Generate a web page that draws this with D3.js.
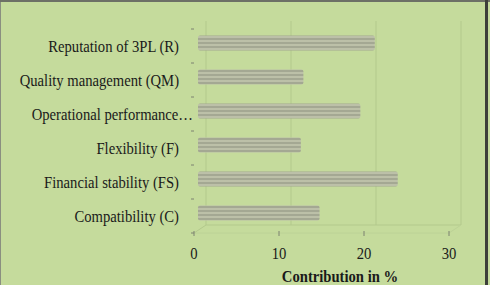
<!DOCTYPE html>
<html>
<head>
<meta charset="utf-8">
<script src="https://cdn.jsdelivr.net/npm/d3@7"></script>
<style>
  body { margin: 0; background: #fff; }
  text { font-family: "Liberation Serif", "Times New Roman", serif; }
</style>
</head>
<body>
<div id="chart"></div>
<script>
// criteria bottom to top, as drawn
let criteria = ["Compatibility (C)", "Financial stability (FS)", "Flexibility (F)",
                "Operational performance\u2026", "Quality management (QM)", "Reputation of 3PL (R)"],
    contribution = [14.3, 23.5, 12.1, 19.1, 12.4, 20.8],
    xTicks = [0, 10, 20, 30];

let W = 490, H = 285,
    margin = {top: 29, right: 41, bottom: 52, left: 194},
    width = W - margin.left - margin.right,
    height = H - margin.top - margin.bottom,
    depthX = 12, depthY = 8,
    fontSize = 16, squeeze = 0.915;

let svg = d3.select("#chart").append("svg")
  .attr("width", W).attr("height", H);

// panel background and frame
svg.append("rect").attr("width", W).attr("height", H).attr("fill", "#c5db9c");
svg.append("line").attr("x1", 0.5).attr("x2", 0.5).attr("y1", 0).attr("y2", H)
  .attr("stroke", "#8a8f80").attr("stroke-width", 1);
svg.append("line").attr("x1", 0).attr("x2", W).attr("y1", 1).attr("y2", 1)
  .attr("stroke", "#6d7066").attr("stroke-width", 2);
svg.append("line").attr("x1", 486.5).attr("x2", 486.5).attr("y1", 0).attr("y2", H)
  .attr("stroke", "#3d3f3a").attr("stroke-width", 3);

// stripe pattern for bars
let defs = svg.append("defs");
let pat = defs.append("pattern").attr("id", "stripes")
  .attr("patternUnits", "userSpaceOnUse").attr("width", 8).attr("height", 4);
pat.append("rect").attr("width", 8).attr("height", 4).attr("fill", "#bcc0a8");
pat.append("rect").attr("y", 1).attr("width", 8).attr("height", 2).attr("fill", "#a4a893");

let xScale = d3.scaleLinear().domain([0, 30]).range([0, width]);
let yScale = d3.scaleBand().domain(criteria).range([height, 0]).paddingInner(0.5).paddingOuter(0.25);
let yBand = d3.scaleBand().domain(criteria).range([height, 0]);

let g = svg.append("g").attr("transform", "translate(" + margin.left + "," + margin.top + ")");

// draws text a bit narrower, like the scaled original
function label(sel, x, y) {
  sel.attr("transform", (d, i) => "translate(" + x(d, i) + "," + y(d, i) + ") scale(" + squeeze + ",1)")
     .attr("font-size", fontSize).attr("fill", "#1a1a1a");
}

// back wall gridlines (3D look)
let grid = "#b3c98c";
g.selectAll(".grid").data(xTicks).enter().append("line")
  .attr("x1", d => xScale(d) + depthX).attr("x2", d => xScale(d) + depthX)
  .attr("y1", -depthY).attr("y2", height - depthY)
  .attr("stroke", grid).attr("stroke-width", 1);
// floor
g.append("line").attr("x1", depthX).attr("x2", width + depthX)
  .attr("y1", height - depthY).attr("y2", height - depthY).attr("stroke", grid);
g.append("line").attr("x1", 0).attr("x2", width)
  .attr("y1", height).attr("y2", height).attr("stroke", "#bcd296");
g.append("line").attr("x1", 0).attr("x2", depthX)
  .attr("y1", height).attr("y2", height - depthY).attr("stroke", grid);
g.append("line").attr("x1", width).attr("x2", width + depthX)
  .attr("y1", height).attr("y2", height - depthY).attr("stroke", "#bcd296");

// bars
g.selectAll(".bar").data(contribution).enter().append("rect")
  .attr("x", 4)
  .attr("y", (d, i) => yScale(criteria[i]) - 2)
  .attr("width", d => xScale(d))
  .attr("height", 15)
  .attr("rx", 2)
  .attr("fill", "url(#stripes)");

// y ticks (between categories)
let yTickPos = d3.range(criteria.length + 1).map(i => i * yBand.step());
g.selectAll(".ytick").data(yTickPos).enter().append("line")
  .attr("x1", -3).attr("x2", 0)
  .attr("y1", d => d).attr("y2", d => d)
  .attr("stroke", "#7d8270").attr("stroke-width", 1);

// y labels
g.selectAll(".ylab").data(criteria).enter().append("text")
  .attr("text-anchor", "end")
  .call(label, d => d.endsWith("\u2026") ? -1 : -15,
               d => yScale(d) + yScale.bandwidth() / 2 + 6)
  .text(d => d);

// x axis ticks and labels
g.selectAll(".xtick").data(xTicks).enter().append("line")
  .attr("x1", d => xScale(d)).attr("x2", d => xScale(d))
  .attr("y1", height - 2).attr("y2", height + 3)
  .attr("stroke", "#7d8270");
g.selectAll(".xlab").data(xTicks).enter().append("text")
  .attr("text-anchor", "middle")
  .call(label, d => xScale(d), () => height + 26)
  .text(d => d);

g.append("text").datum("title")
  .attr("text-anchor", "middle")
  .attr("font-weight", "bold")
  .call(label, () => 146, () => height + 49)
  .text("Contribution in %");
</script>
</body>
</html>
